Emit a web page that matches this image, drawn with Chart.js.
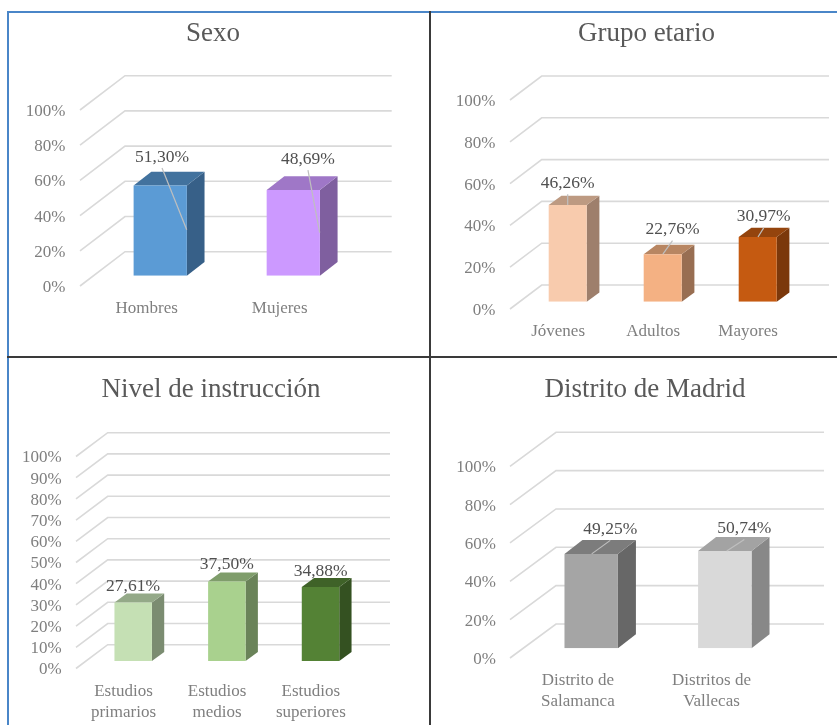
<!DOCTYPE html>
<html>
<head>
<meta charset="utf-8">
<title>Sexo, grupo etario, nivel de instrucción y distrito</title>
<script src="https://cdn.jsdelivr.net/npm/chart.js@4/dist/chart.umd.js"></script>
<style>
    html, body { margin: 0; padding: 0; background: #fff; }
    #page { position: relative; width: 837px; height: 725px; overflow: hidden; background: #fff; }
    canvas { position: absolute; }
    .line { position: absolute; }
</style>
</head>
<body>
<div id="page">
    <div class="line" style="left:7px;top:11px;width:830px;height:2px;background:#4a86c8"></div>
    <div class="line" style="left:7px;top:11px;width:2px;height:714px;background:#4a86c8"></div>
    <div class="line" style="left:429px;top:11px;width:2px;height:714px;background:#3a3a3a"></div>
    <div class="line" style="left:7px;top:356px;width:830px;height:2px;background:#3a3a3a"></div>
    <canvas id="sexo"></canvas>
    <canvas id="grupo"></canvas>
    <canvas id="nivel"></canvas>
    <canvas id="distrito"></canvas>
</div>
<script>
const sexoLabels = ["Hombres", "Mujeres"];
const sexoValues = [51.30, 48.69];
const sexoTicks = [0, 20, 40, 60, 80, 100];

const grupoLabels = ["Jóvenes", "Adultos", "Mayores"];
const grupoValues = [46.26, 22.76, 30.97];
const grupoTicks = [0, 20, 40, 60, 80, 100];

const nivelLabels = [["Estudios", "primarios"], ["Estudios", "medios"], ["Estudios", "superiores"]];
const nivelValues = [27.61, 37.50, 34.88];
const nivelTicks = [0, 10, 20, 30, 40, 50, 60, 70, 80, 90, 100];

const distritoLabels = [["Distrito de", "Salamanca"], ["Distritos de", "Vallecas"]];
const distritoValues = [49.25, 50.74];
const distritoTicks = [0, 20, 40, 60, 80, 100];

const serif = "'Liberation Serif', 'Times New Roman', serif";

// caras de las barras y parte 3D, en px de pagina
const panels = [
    {
        id: "sexo", title: "Sexo", labels: sexoLabels, values: sexoValues, ticks: sexoTicks,
        box: { left: 14, top: 14, width: 398, height: 342 }, titleY: 34,
        area: { left: 93.7, right: 359.8, top: 99.7, bottom: 275.7 },
        tickPad: 28.4, catPad: 22.5, catShift: -13.6,
        frontX: 80, frontDy: 10.3, backX: 125, backDy: -24, gridEnd: 391.7,
        depth: [17.7, 13.7],
        front: ["#5b9bd5", "#cc99ff"], side: ["#376088", "#7f5f9f"], top: ["#42729e", "#9f77c7"],
        labelAt: [[1.8, -28.5], [14.7, -30.8]], leaderTo: [[26.5, 44.3], [26.4, 42.7]]
    },
    {
        id: "grupo", title: "Grupo etario", labels: grupoLabels, values: grupoValues, ticks: grupoTicks,
        box: { left: 456, top: 14, width: 381, height: 342 }, titleY: 34,
        area: { left: 520.2, right: 805.2, top: 92.7, bottom: 301.7 },
        tickPad: 24.9, catPad: 19.5, catShift: -9.6,
        frontX: 510, frontDy: 7.3, backX: 541.7, backDy: -16.7, gridEnd: 829,
        depth: [12.7, 9.3],
        front: ["#f8cbad", "#f4b183", "#c55a11"], side: ["#9e7f6c", "#986e52", "#7b380b"], top: ["#bd9a82", "#b88662", "#94440d"],
        labelAt: [[0, -21.8], [9.8, -24.5], [6, -20.1]], leaderTo: [[0, 0], [0.2, 0], [0.3, 0]]
    },
    {
        id: "nivel", title: "Nivel de instrucción", labels: nivelLabels, values: nivelValues, ticks: nivelTicks,
        box: { left: 10, top: 358, width: 402, height: 367 }, titleY: 390,
        area: { left: 86.35, right: 367.35, top: 449, bottom: 661 },
        tickPad: 24.65, catPad: 20.5, catShift: -9.7,
        frontX: 76, frontDy: 7.5, backX: 107.7, backDy: -16.3, gridEnd: 390,
        depth: [12.3, 9],
        front: ["#c5e0b4", "#a9d18e", "#548235"], side: ["#7b8c71", "#6a8359", "#345121"], top: ["#94a988", "#7f9d6b", "#3f6228"],
        labelAt: [[-0.2, -16.2], [-0.1, -16.8], [0.2, -15.5]], leaderTo: [null, null, null]
    },
    {
        id: "distrito", title: "Distrito de Madrid", labels: distritoLabels, values: distritoValues, ticks: distritoTicks,
        box: { left: 455, top: 358, width: 380, height: 367 }, titleY: 390,
        area: { left: 524.4, right: 791.6, top: 456.6, bottom: 648.3 },
        tickPad: 28.4, catPad: 22.5, catShift: -13.3,
        frontX: 510, frontDy: 9.7, backX: 556, backDy: -24.3, gridEnd: 824,
        depth: [18, 14],
        front: ["#a5a5a5", "#d9d9d9"], side: ["#676767", "#888888"], top: ["#7c7c7c", "#a3a3a3"],
        labelAt: [[19.1, -24.5], [19.5, -22.5]], leaderTo: [[0.5, 0], [1.9, 0]]
    }
];

function poly(ctx, pts, color) {
    ctx.beginPath();
    pts.forEach((p, i) => i ? ctx.lineTo(p[0], p[1]) : ctx.moveTo(p[0], p[1]));
    ctx.closePath();
    ctx.fillStyle = color;
    ctx.fill();
}

// rejilla en perspectiva y caras laterales, todo desde las escalas de Chart.js
const fake3d = {
    id: "fake3d",
    afterLayout(chart) {
        // el titulo va centrado en todo el canvas, no solo en el area sin padding
        chart.titleBlock.left = 0;
        chart.titleBlock.right = chart.width;
    },
    beforeDatasetsDraw(chart, args, p) {
        const ctx = chart.ctx;
        const y = chart.scales.y;
        const ox = p.box.left;

        ctx.save();
        ctx.strokeStyle = "#d9d9d9";
        ctx.lineWidth = 1.6;
        p.ticks.forEach(v => {
            const py = y.getPixelForValue(v);
            ctx.beginPath();
            ctx.moveTo(p.frontX - ox, py + p.frontDy);
            ctx.lineTo(p.backX - ox, py + p.backDy);
            ctx.lineTo(p.gridEnd - ox, py + p.backDy);
            ctx.stroke();
        });

        const [dx, dy] = p.depth;
        chart.getDatasetMeta(0).data.forEach((bar, i) => {
            const l = bar.x - bar.width / 2;
            const r = bar.x + bar.width / 2;
            poly(ctx, [[r, bar.y], [r + dx, bar.y - dy], [r + dx, bar.base - dy], [r, bar.base]], p.side[i]);
            poly(ctx, [[l, bar.y], [r, bar.y], [r + dx, bar.y - dy], [l + dx, bar.y - dy]], p.top[i]);
        });
        ctx.restore();
    },
    afterDatasetsDraw(chart, args, p) {
        const ctx = chart.ctx;
        ctx.save();
        chart.getDatasetMeta(0).data.forEach((bar, i) => {
            const lx = bar.x + p.labelAt[i][0];
            const ly = bar.y + p.labelAt[i][1];
            const to = p.leaderTo[i];
            if (to) {
                ctx.strokeStyle = "#bfbfbf";
                ctx.lineWidth = 1.2;
                ctx.beginPath();
                ctx.moveTo(lx, ly + 11);
                ctx.lineTo(bar.x + to[0], bar.y + to[1]);
                ctx.stroke();
            }
            ctx.fillStyle = "#505050";
            ctx.font = "17.5px " + serif;
            ctx.textAlign = "center";
            ctx.textBaseline = "middle";
            ctx.fillText(p.values[i].toFixed(2).replace(".", ",") + "%", lx, ly);
        });
        ctx.restore();
    }
};

panels.forEach(p => {
    const canvas = document.getElementById(p.id);
    canvas.width = p.box.width;
    canvas.height = p.box.height;
    canvas.style.left = p.box.left + "px";
    canvas.style.top = p.box.top + "px";

    new Chart(canvas, {
        type: "bar",
        data: {
            labels: p.labels,
            datasets: [{
                data: p.values,
                backgroundColor: p.front,
                borderWidth: 0,
                barPercentage: 0.4,
                categoryPercentage: 1
            }]
        },
        plugins: [fake3d],
        options: {
            responsive: false,
            animation: false,
            devicePixelRatio: 1,
            layout: { padding: { left: 0, top: 0, bottom: 0, right: p.box.left + p.box.width - p.area.right } },
            scales: {
                x: {
                    grid: { display: false, drawTicks: false },
                    border: { display: false },
                    afterFit(scale) { scale.height = p.box.top + p.box.height - p.area.bottom; },
                    ticks: {
                        color: "#7f7f7f",
                        font: { family: serif, size: 17, lineHeight: 1.2 },
                        padding: p.catPad,
                        labelOffset: p.catShift,
                        maxRotation: 0,
                        autoSkip: false
                    }
                },
                y: {
                    min: 0,
                    max: 100,
                    afterBuildTicks(scale) { scale.ticks = p.ticks.map(v => ({ value: v })); },
                    afterFit(scale) { scale.width = p.area.left - p.box.left; },
                    grid: { display: false, drawTicks: false },
                    border: { display: false },
                    ticks: {
                        color: "#7f7f7f",
                        font: { family: serif, size: 17 },
                        padding: p.tickPad,
                        labelOffset: p.frontDy + 1.5,
                        autoSkip: false,
                        callback: v => v + "%"
                    }
                }
            },
            plugins: {
                legend: { display: false },
                tooltip: { enabled: false },
                title: {
                    display: true,
                    text: p.title,
                    color: "#595959",
                    font: { family: serif, size: 27, weight: "normal", lineHeight: "30px" },
                    padding: { top: p.titleY - 15 - p.box.top, bottom: p.area.top - p.titleY - 15 }
                },
                fake3d: p
            }
        }
    });
});
</script>
</body>
</html>
